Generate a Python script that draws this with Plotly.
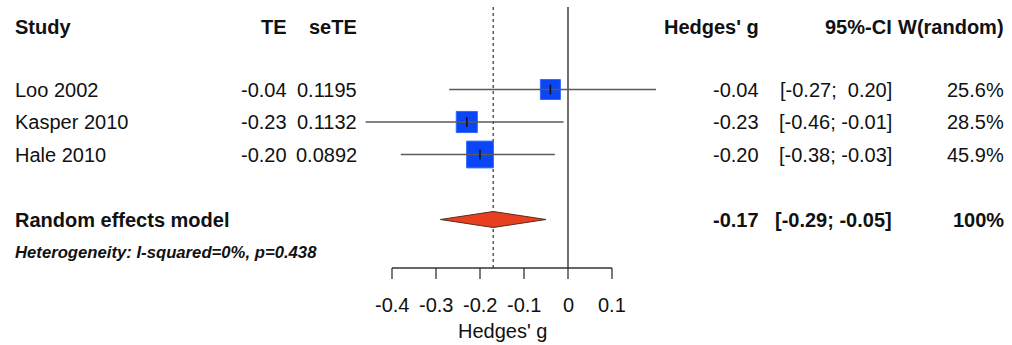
import plotly.graph_objects as go

# ---- data ----
studies = ["Loo 2002", "Kasper 2010", "Hale 2010"]
te = [-0.04, -0.23, -0.20]
se = [0.1195, 0.1132, 0.0892]
ci_lo = [-0.27, -0.46, -0.38]
ci_hi = [0.20, -0.01, -0.03]
weights = [25.6, 28.5, 45.9]
te_labels = ["-0.04", "-0.23", "-0.20"]
se_labels = ["0.1195", "0.1132", "0.0892"]
ci_labels = ["[-0.27;\u00a0\u00a00.20]", "[-0.46; -0.01]", "[-0.38; -0.03]"]
w_labels = ["25.6%", "28.5%", "45.9%"]
pooled = -0.17
pooled_lo = -0.29
pooled_hi = -0.05
pooled_label = "-0.17"
pooled_ci_label = "[-0.29; -0.05]"
pooled_w_label = "100%"
het_label = "Heterogeneity: I-squared=0%, p=0.438"
tick_vals = [-0.4, -0.3, -0.2, -0.1, 0, 0.1]
tick_labels = ["-0.4", "-0.3", "-0.2", "-0.1", "0", "0.1"]
xlab = "Hedges' g"

# ---- layout geometry ----
W, H = 1012, 345
X0_PX, PX_PER_UNIT = 568, 440       # x pixel of 0 and pixels per unit
Y0_PX, PX_PER_ROW = 24.5, 32.5      # y pixel of row 0 and pixels per row
study_rows = [2, 3, 4]
pooled_row = 6
het_row = 7

def row_of(px):
    return (px - Y0_PX) / PX_PER_ROW

def xp(px):
    return px / W

FONT = "Liberation Sans, Arial, Helvetica, sans-serif"
FS = 20

fig = go.Figure()

# reference lines
top_row, axis_row = row_of(7), row_of(268)
fig.add_trace(go.Scatter(x=[0, 0], y=[top_row, axis_row], mode="lines",
                         line=dict(color="#222", width=1.3), hoverinfo="skip"))
fig.add_trace(go.Scatter(x=[pooled, pooled], y=[top_row, axis_row], mode="lines",
                         line=dict(color="#333", width=1.2, dash="dot"), hoverinfo="skip"))

# squares
k = 20 / (25.6 ** 0.5)
fig.add_trace(go.Scatter(x=te, y=study_rows, mode="markers",
                         marker=dict(symbol="square", size=[k * w ** 0.5 for w in weights],
                                     opacity=1,
                                     color="#0a46f5", line=dict(color="#2f6bff", width=1)),
                         hoverinfo="skip"))
# CI lines
cx, cy = [], []
for lo, hi, r in zip(ci_lo, ci_hi, study_rows):
    cx += [lo, hi, None]
    cy += [r, r, None]
fig.add_trace(go.Scatter(x=cx, y=cy, mode="lines",
                         line=dict(color="#5a5a5a", width=1.5), hoverinfo="skip"))
# point tick
fig.add_trace(go.Scatter(x=te, y=study_rows, mode="markers",
                         marker=dict(symbol="line-ns", size=7,
                                     line=dict(color="#111", width=1.5)),
                         hoverinfo="skip"))

# diamond
h = 8 / PX_PER_ROW
fig.add_trace(go.Scatter(x=[pooled_lo, pooled, pooled_hi, pooled, pooled_lo],
                         y=[pooled_row, pooled_row - h, pooled_row, pooled_row + h, pooled_row],
                         mode="lines", fill="toself", fillcolor="#e8401e",
                         line=dict(color="#5a2a20", width=1), hoverinfo="skip"))

# bottom axis
tick_bot = row_of(279)
fig.add_trace(go.Scatter(x=[tick_vals[0], tick_vals[-1]], y=[axis_row, axis_row], mode="lines",
                         line=dict(color="#333", width=1.3), hoverinfo="skip"))
tx, ty = [], []
for t in tick_vals:
    tx += [t, t, None]
    ty += [axis_row, tick_bot, None]
fig.add_trace(go.Scatter(x=tx, y=ty, mode="lines",
                         line=dict(color="#333", width=1.3), hoverinfo="skip"))

ann = []
PAD = 2
def add(text, x_px, row, anchor, bold=False, italic=False, size=FS):
    if bold:
        text = "<b>" + text + "</b>"
    if italic:
        text = "<i>" + text + "</i>"
    if anchor == "left":
        x_px -= PAD
    elif anchor == "right":
        x_px += PAD
    ann.append(dict(text=text, x=xp(x_px), xref="paper", y=row, yref="y",
                    xanchor=anchor, yanchor="middle", showarrow=False,
                    font=dict(family=FONT, size=size, color="#111")))

for t, lab in zip(tick_vals, tick_labels):
    ann.append(dict(text=lab, x=t, xref="x", y=row_of(305), yref="y",
                    xanchor="center", yanchor="middle", showarrow=False,
                    font=dict(family=FONT, size=FS, color="#111")))
add(xlab, X0_PX + PX_PER_UNIT * (sum(tick_vals[:1] + tick_vals[-1:]) / 2), row_of(331), "center")

hdr_row = row_of(27)
add("Study", 15, hdr_row, "left", bold=True)
add("TE", 287, hdr_row, "right", bold=True)
add("seTE", 357, hdr_row, "right", bold=True)
add("Hedges' g", 759, hdr_row, "right", bold=True)
add("95%-CI", 892, hdr_row, "right", bold=True)
add("W(random)", 1004, hdr_row, "right", bold=True)

for i, r in enumerate(study_rows):
    add(studies[i], 15, r, "left")
    add(te_labels[i], 287, r, "right")
    add(se_labels[i], 357, r, "right")
    add(te_labels[i], 759, r, "right")
    add(ci_labels[i], 892, r, "right")
    add(w_labels[i], 1004, r, "right")

add("Random effects model", 15, pooled_row, "left", bold=True)
add(pooled_label, 759, pooled_row, "right", bold=True)
add(pooled_ci_label, 892, pooled_row, "right", bold=True)
add(pooled_w_label, 1004, pooled_row, "right", bold=True)
add(het_label, 15, het_row, "left", bold=True, italic=True, size=16.7)

fig.update_layout(
    width=W, height=H, margin=dict(l=0, r=0, t=0, b=0),
    paper_bgcolor="white", plot_bgcolor="white", showlegend=False,
    xaxis=dict(range=[-X0_PX / PX_PER_UNIT, (W - X0_PX) / PX_PER_UNIT], visible=False, fixedrange=True),
    yaxis=dict(range=[row_of(H), row_of(0)], visible=False, fixedrange=True),
    annotations=ann,
)

fig.write_html("out.html", config={"displayModeBar": False},
               post_script="document.body.style.margin='0';document.body.style.overflow='hidden';")
